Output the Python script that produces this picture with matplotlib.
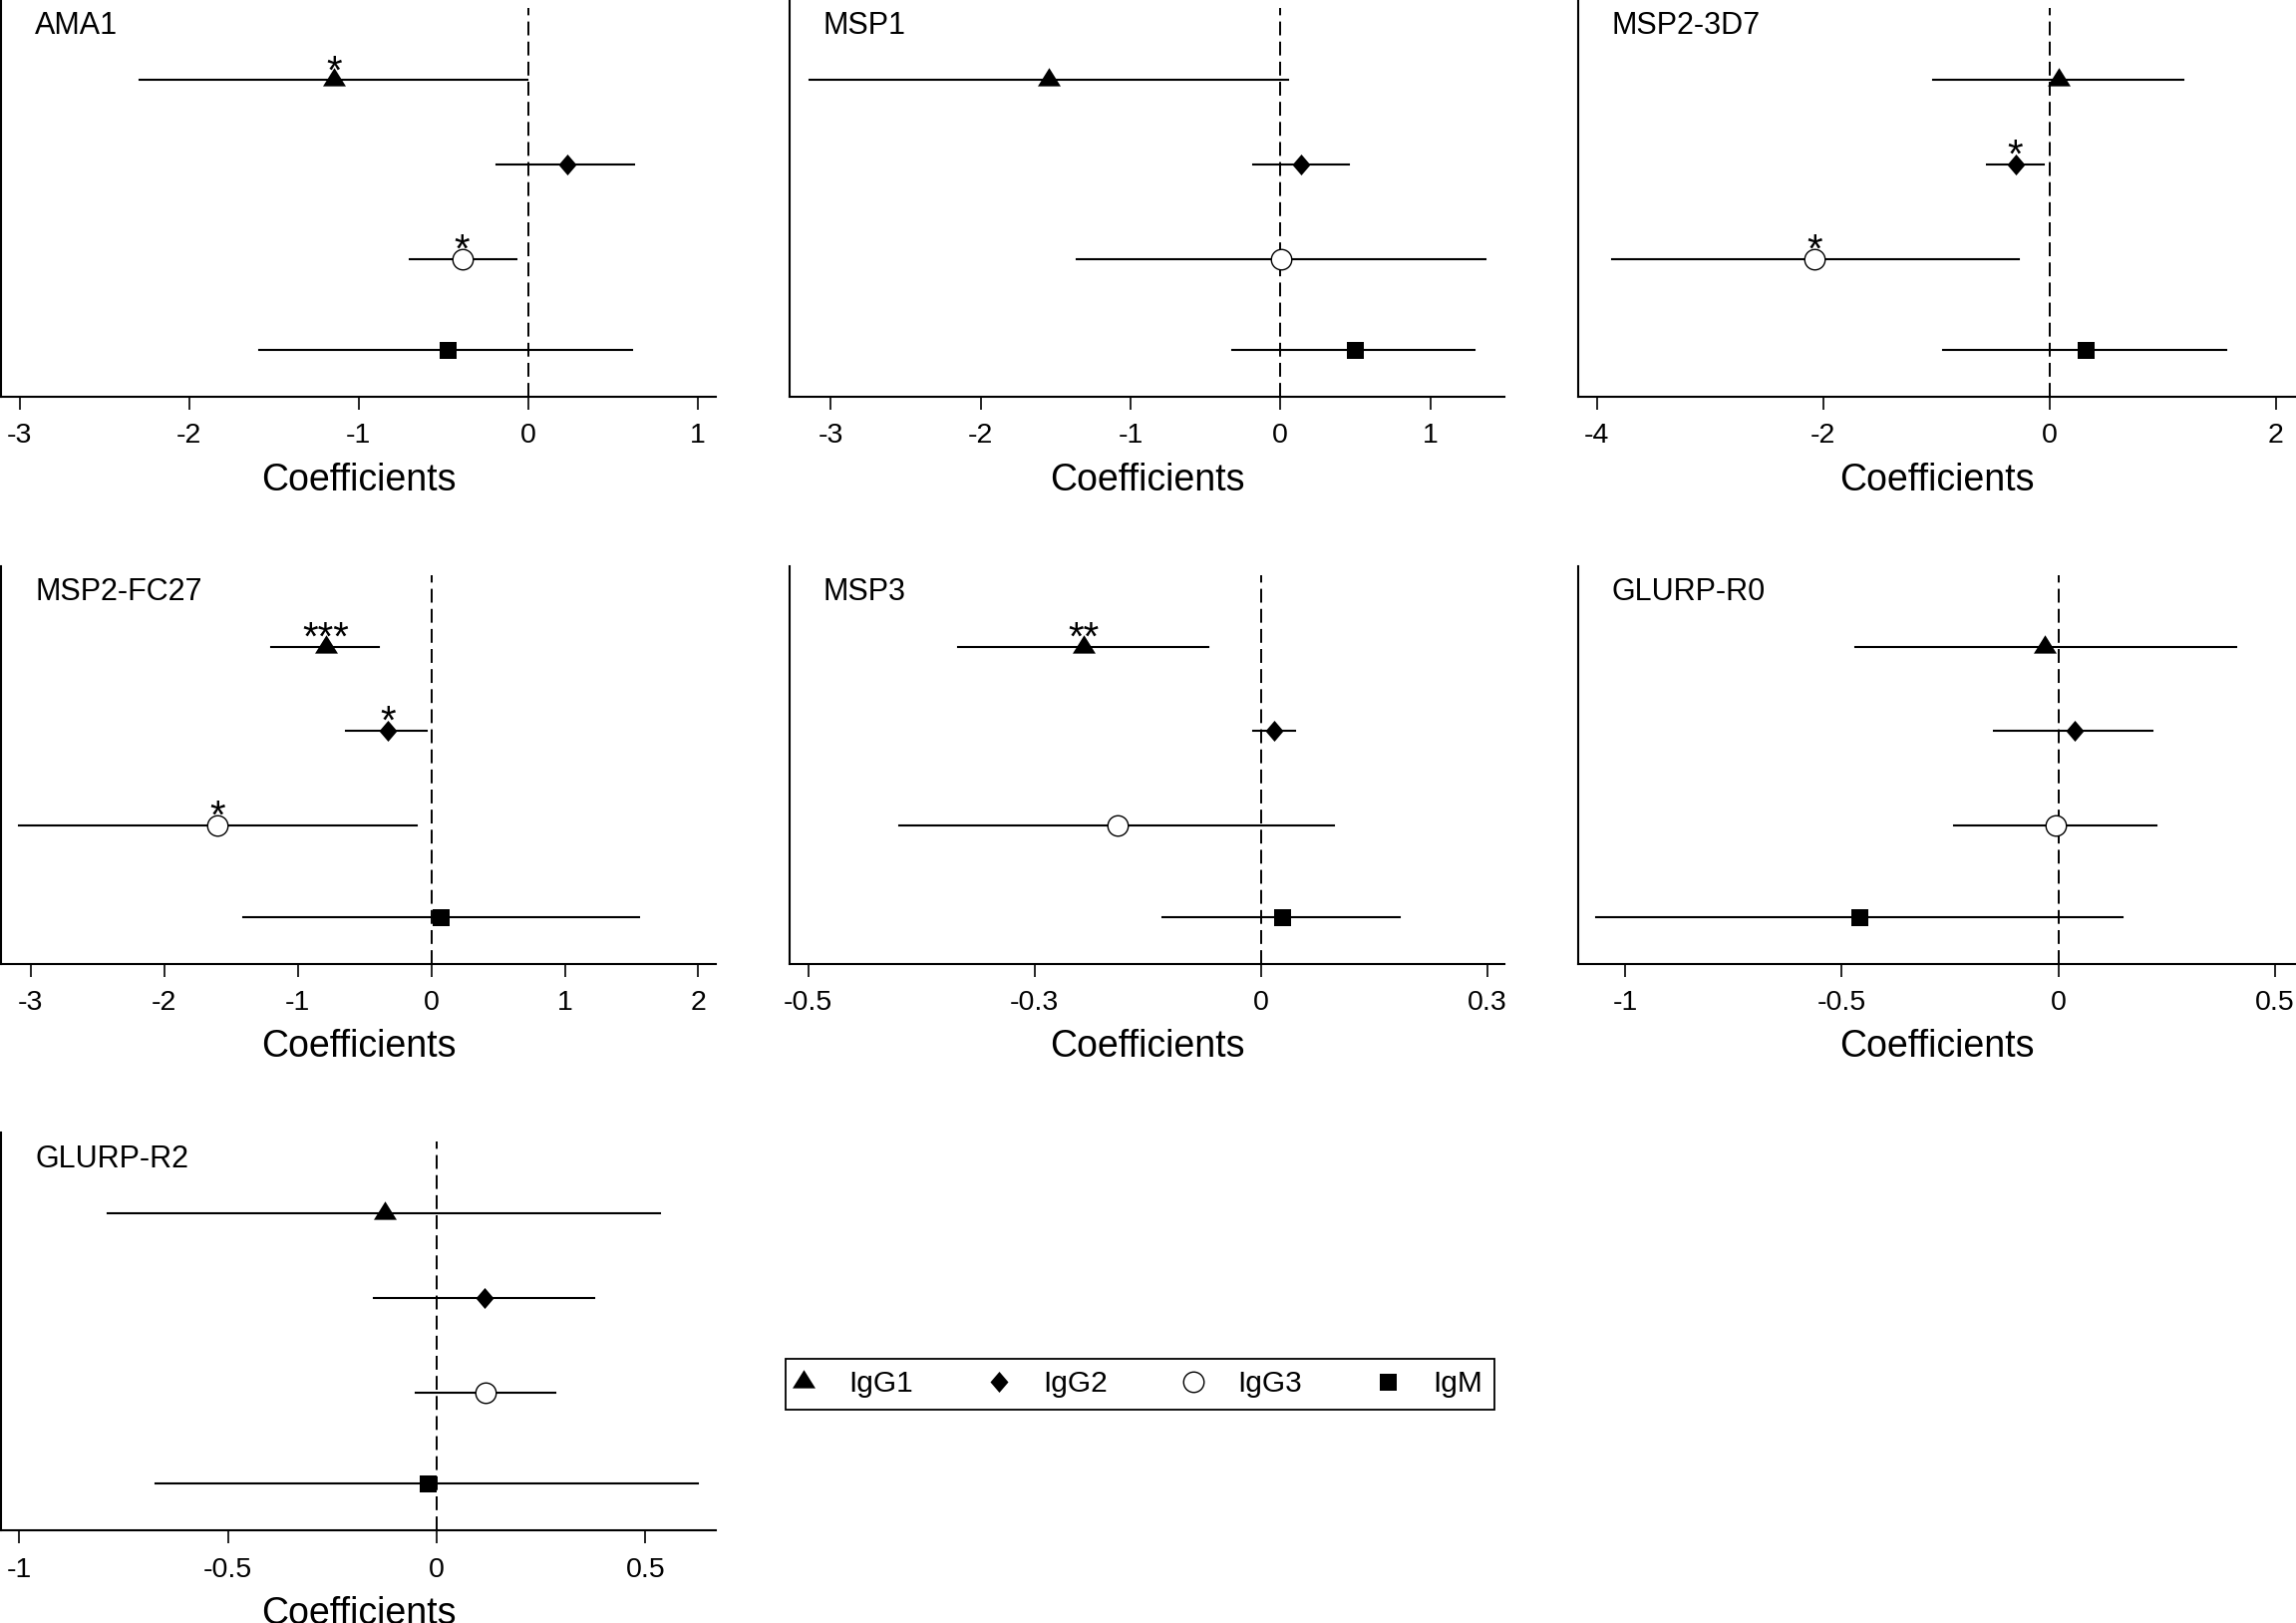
import matplotlib
matplotlib.use("Agg")
import matplotlib.pyplot as plt
from matplotlib.path import Path
from matplotlib.lines import Line2D

plt.rcParams['font.family'] = ['Liberation Sans', 'DejaVu Sans']
plt.rcParams['axes.unicode_minus'] = False
plt.rcParams['lines.scale_dashes'] = False

# ---- data ----
antigens = ['AMA1', 'MSP1', 'MSP2-3D7', 'MSP2-FC27', 'MSP3', 'GLURP-R0', 'GLURP-R2']
isotypes = ['IgG1', 'IgG2', 'IgG3', 'IgM']

coef_ama1 = [-1.143, 0.23, -0.39, -0.476]
low_ama1 = [-2.29, -0.19, -0.70, -1.587]
high_ama1 = [-0.006, 0.626, -0.07, 0.612]
stars_ama1 = ['*', '', '*', '']

coef_msp1 = [-1.542, 0.14, 0.003, 0.496]
low_msp1 = [-3.143, -0.18, -1.356, -0.32]
high_msp1 = [0.052, 0.456, 1.369, 1.294]
stars_msp1 = ['', '', '', '']

coef_3d7 = [0.086, -0.30, -2.075, 0.322]
low_3d7 = [-1.03, -0.553, -3.87, -0.943]
high_3d7 = [1.184, -0.05, -0.274, 1.565]
stars_3d7 = ['', '*', '*', '']

coef_fc27 = [-0.789, -0.323, -1.60, 0.073]
low_fc27 = [-1.196, -0.638, -3.09, -1.409]
high_fc27 = [-0.393, -0.033, -0.11, 1.555]
stars_fc27 = ['***', '*', '*', '']

coef_msp3 = [-0.196, 0.0152, -0.1585, 0.0233]
low_msp3 = [-0.334, -0.0087, -0.3994, -0.109]
high_msp3 = [-0.058, 0.0384, 0.0812, 0.154]
stars_msp3 = ['**', '', '', '']

coef_r0 = [-0.031, 0.037, -0.006, -0.46]
low_r0 = [-0.469, -0.149, -0.241, -1.066]
high_r0 = [0.41, 0.217, 0.225, 0.147]
stars_r0 = ['', '', '', '']

coef_r2 = [-0.123, 0.115, 0.117, -0.022]
low_r2 = [-0.789, -0.150, -0.050, -0.674]
high_r2 = [0.535, 0.377, 0.284, 0.626]
stars_r2 = ['', '', '', '']

ticks_ama1 = [-3, -2, -1, 0, 1]
ticks_msp1 = [-3, -2, -1, 0, 1]
ticks_3d7 = [-4, -2, 0, 2]
ticks_fc27 = [-3, -2, -1, 0, 1, 2]
ticks_msp3 = [-0.5, -0.25, 0, 0.25]
ticks_r0 = [-1, -0.5, 0, 0.5]
ticks_r2 = [-1, -0.5, 0, 0.5]
ticklabels_msp3 = ['-0.5', '-0.3', '0', '0.3']

# ---- layout ----
W, H = 2303, 1628
rows_px = [(-0.5, 398.3), (567.5, 967), (1136.3, 1535.4)]
cols_px = [(1, 718), (791.6, 1509.2), (1582.8, 2303)]
row_frac = [0.797, 0.586, 0.348, 0.118]

xlims = {
    'AMA1': (-3.109, 1.106),
    'MSP1': (-3.278, 1.497),
    'MSP2-3D7': (-4.167, 2.18),
    'MSP2-FC27': (-3.223, 2.131),
    'MSP3': (-0.5212, 0.2695),
    'GLURP-R0': (-1.1086, 0.548),
    'GLURP-R2': (-1.044, 0.669),
}


def marker_path(points):
    return Path(points + [points[0]], [Path.MOVETO] + [Path.LINETO] * (len(points) - 1) + [Path.CLOSEPOLY])


px = 0.72  # points per pixel at dpi 100
tri = marker_path([(0, 12), (11.25, -6), (-11.25, -6)])
dia = marker_path([(0, 10.5), (9, 0), (0, -10.5), (-9, 0)])
styles = [
    dict(marker=tri, markersize=24.5 * px, markerfacecolor='black', markeredgewidth=0),
    dict(marker=dia, markersize=21 * px, markerfacecolor='black', markeredgewidth=0),
    dict(marker='o', markersize=20.5 * px, markerfacecolor='white', markeredgecolor='black', markeredgewidth=1.0),
    dict(marker='s', markersize=17 * px, markerfacecolor='black', markeredgewidth=0),
]

panels = [
    ('AMA1', coef_ama1, low_ama1, high_ama1, stars_ama1, ticks_ama1, None),
    ('MSP1', coef_msp1, low_msp1, high_msp1, stars_msp1, ticks_msp1, None),
    ('MSP2-3D7', coef_3d7, low_3d7, high_3d7, stars_3d7, ticks_3d7, None),
    ('MSP2-FC27', coef_fc27, low_fc27, high_fc27, stars_fc27, ticks_fc27, None),
    ('MSP3', coef_msp3, low_msp3, high_msp3, stars_msp3, ticks_msp3, ticklabels_msp3),
    ('GLURP-R0', coef_r0, low_r0, high_r0, stars_r0, ticks_r0, None),
    ('GLURP-R2', coef_r2, low_r2, high_r2, stars_r2, ticks_r2, None),
]

fig = plt.figure(figsize=(W / 100, H / 100), dpi=100)

for i, (name, coef, low, high, stars, ticks, labels) in enumerate(panels):
    top, bottom = rows_px[i // 3]
    left, right = cols_px[i % 3]
    ax = fig.add_axes([left / W, 1 - bottom / H, (right - left) / W, (bottom - top) / H])
    height = bottom - top

    ax.axvline(0, ymin=0, ymax=1 - 9 / height, color='black', lw=1.4,
               linestyle=(0, (10, 4.5)), zorder=1)
    for j in range(len(isotypes)):
        y = row_frac[j]
        ax.plot([low[j], high[j]], [y, y], color='black', lw=1.5, zorder=2)
        ax.plot([coef[j]], [y], linestyle='none', zorder=3, **styles[j])
        if stars[j]:
            ax.annotate(stars[j], (coef[j], y), xytext=(0, -2.1), textcoords='offset points',
                        ha='center', va='baseline', fontsize=29, zorder=4)

    ax.set_xlim(*xlims[name])
    ax.set_ylim(0, 1)
    ax.set_xticks(ticks)
    if labels:
        ax.set_xticklabels(labels)
    else:
        ax.set_xticklabels([f'{t:g}' for t in ticks])
    ax.set_yticks([])
    for side in ['top', 'right']:
        ax.spines[side].set_visible(False)
    for side in ['left', 'bottom']:
        ax.spines[side].set_linewidth(1.5)
    ax.tick_params(axis='x', direction='out', length=9.4, width=1.2, pad=9.4, labelsize=20.5)
    ax.set_xlabel('Coefficients', fontsize=27, labelpad=9.5)
    ax.annotate(name, (0, 1), xycoords='axes fraction', xytext=(24.5, -8.4),
                textcoords='offset points', ha='left', va='top', fontsize=22)

handles = [Line2D([], [], linestyle='none', **s) for s in styles]
fig.legend(handles, isotypes, loc='center', bbox_to_anchor=(1143.5 / W, 1 - 1388.5 / H),
           ncol=4, fontsize=21.5, frameon=True, fancybox=False, edgecolor='black',
           framealpha=1, handlelength=0.4, handletextpad=1.3, columnspacing=2.67,
           borderpad=0.4)
leg = fig.legends[0]
leg.get_frame().set_linewidth(1.3)

fig.savefig('out.png', dpi=100)
